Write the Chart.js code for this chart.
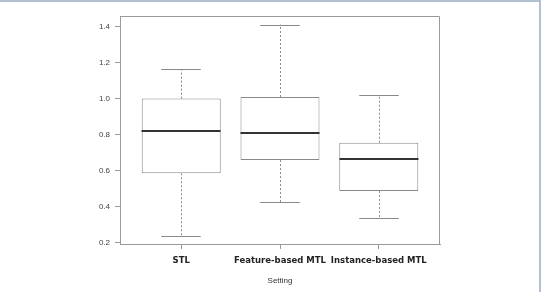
<!DOCTYPE html>
<html>
<head>
<meta charset="utf-8">
<script src="https://cdn.jsdelivr.net/npm/chart.js@4"></script>
<style>
  html, body { margin: 0; padding: 0; background: #fff; }
  #wrap { position: relative; width: 544px; height: 292px; }
  #edge { position: absolute; left: 0; top: 0; width: 541px; height: 292px;
          border-top: 2px solid #b3c0d2; border-right: 2px solid #b3c0d2; box-sizing: border-box; pointer-events: none; }
</style>
</head>
<body>
<div id="wrap">
  <canvas id="chart" width="544" height="292"></canvas>
  <div id="edge"></div>
</div>
<script>
const categories = ["STL", "Feature-based MTL", "Instance-based MTL"];
const whiskerLow = [0.237, 0.426, 0.339];
const q1 = [0.587, 0.661, 0.489];
const median = [0.822, 0.809, 0.668];
const q3 = [1.002, 1.011, 0.757];
const whiskerHigh = [1.165, 1.413, 1.022];
const yTicks = [0.2, 0.4, 0.6, 0.8, 1.0, 1.2, 1.4];

// median, whiskers and frame drawn on top of the floating bars
const boxPlotExtras = {
  id: "boxPlotExtras",
  afterDatasetsDraw(chart) {
    const ctx = chart.ctx;
    const xs = chart.scales.x;
    const ys = chart.scales.y;
    const bars = chart.getDatasetMeta(0).data;
    ctx.save();
    categories.forEach((c, i) => {
      const cx = Math.round(xs.getPixelForValue(i + 1));
      const half = bars[i].width / 2;
      const capHalf = half / 2;
      const yLo = ys.getPixelForValue(whiskerLow[i]);
      const yHi = ys.getPixelForValue(whiskerHigh[i]);
      const yQ1 = ys.getPixelForValue(q1[i]);
      const yQ3 = ys.getPixelForValue(q3[i]);
      const yMed = ys.getPixelForValue(median[i]);

      // dotted whiskers
      ctx.strokeStyle = "#8a8a8a";
      ctx.lineWidth = 1;
      ctx.setLineDash([2, 2]);
      ctx.beginPath();
      ctx.moveTo(cx + 0.5, yQ3);
      ctx.lineTo(cx + 0.5, yHi);
      ctx.moveTo(cx + 0.5, yQ1);
      ctx.lineTo(cx + 0.5, yLo);
      ctx.stroke();

      // caps
      ctx.setLineDash([]);
      ctx.beginPath();
      ctx.moveTo(cx - capHalf, Math.round(yHi) + 0.5);
      ctx.lineTo(cx + capHalf, Math.round(yHi) + 0.5);
      ctx.moveTo(cx - capHalf, Math.round(yLo) + 0.5);
      ctx.lineTo(cx + capHalf, Math.round(yLo) + 0.5);
      ctx.stroke();

      // median
      ctx.strokeStyle = "#333333";
      ctx.lineWidth = 2;
      ctx.beginPath();
      ctx.moveTo(cx - half, Math.round(yMed));
      ctx.lineTo(cx + half, Math.round(yMed));
      ctx.stroke();
    });

    // top and right sides of the plot frame
    const a = chart.chartArea;
    ctx.strokeStyle = "#9a9a9a";
    ctx.lineWidth = 1;
    ctx.beginPath();
    ctx.moveTo(a.left, a.top + 0.5);
    ctx.lineTo(a.right - 0.5, a.top + 0.5);
    ctx.lineTo(a.right - 0.5, a.bottom);
    ctx.stroke();
    ctx.restore();
  }
};

const ctx = document.getElementById("chart").getContext("2d");
new Chart(ctx, {
  type: "bar",
  data: {
    datasets: [
      {
        data: categories.map((c, i) => ({ x: i + 1, y: [q1[i], q3[i]] })),
        backgroundColor: "#ffffff",
        borderColor: "#8a8a8a",
        borderWidth: 1,
        borderSkipped: false,
        barPercentage: 0.8,
        categoryPercentage: 1.0,
      },
    ],
  },
  options: {
    responsive: false,
    animation: false,
    events: [],
    layout: { padding: { left: 0, right: 104, top: 16, bottom: 0 } },
    plugins: { legend: { display: false }, tooltip: { enabled: false } },
    scales: {
      x: {
        type: "linear",
        min: 0.38,
        max: 3.62,
        offset: false,
        afterBuildTicks: (scale) => {
          scale.ticks = categories.map((c, i) => ({ value: i + 1 }));
        },
        afterFit: (scale) => {
          scale.height = 48;
        },
        ticks: {
          autoSkip: false,
          maxRotation: 0,
          padding: 7,
          color: "#222222",
          font: { family: "DejaVu Sans", size: 8.5, weight: "bold" },
          callback: (v) => categories[Math.round(v) - 1] || "",
        },
        grid: { display: true, offset: false, drawOnChartArea: false, drawTicks: true, tickLength: 5, color: "#9a9a9a" },
        border: { display: true, color: "#9a9a9a" },
        title: {
          display: true,
          text: "Setting",
          color: "#333333",
          font: { family: "Liberation Sans", size: 8 },
          padding: { top: 0, bottom: 6 },
        },
      },
      y: {
        min: 0.194,
        max: 1.461,
        afterBuildTicks: (scale) => {
          scale.ticks = yTicks.map((v) => ({ value: v }));
        },
        afterFit: (scale) => {
          scale.width = 120;
        },
        ticks: {
          padding: 5,
          color: "#444444",
          font: { family: "Liberation Sans", size: 8 },
          callback: (v) => Number(v).toFixed(1),
        },
        grid: { display: true, drawOnChartArea: false, drawTicks: true, tickLength: 5, color: "#9a9a9a" },
        border: { display: true, color: "#9a9a9a" },
      },
    },
  },
  plugins: [boxPlotExtras],
});
</script>
</body>
</html>
